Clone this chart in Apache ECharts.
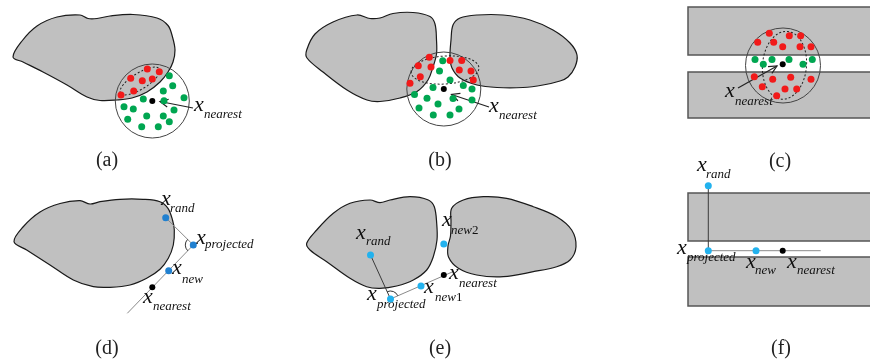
<!DOCTYPE html>
<html>
<head>
<meta charset="utf-8">
<script src="https://cdn.jsdelivr.net/npm/echarts@6/dist/echarts.min.js"></script>
<style>
  html, body { margin: 0; padding: 0; background: #ffffff; }
  #chart { width: 870px; height: 360px; }
</style>
</head>
<body>
<div id="chart"></div>
<script>
// ---- obstacle outlines (figure space: x to the right, y downward) ----
const obstacleA = [[13,57],[22,41],[37,26],[57,17],[80,15],[88,18.5],[97,18.5],[110,16],[133,14.5],[157,18],[168,25.5],[172.5,37],[175,50],[173,62],[168,72],[160,82],[147,92],[132,98],[117,100],[100,100.5],[87,97],[67,85],[43,72],[23,62]];
const obstacleB1 = [[306.7,50],[315,34],[333,22],[357,15],[370,18.5],[380,18],[393,13.5],[413,12.5],[430,16.5],[435,24],[436.5,40],[436.5,54],[433,67],[428,80],[417,91.5],[400,98],[380,101.5],[367,100],[347,90],[323,72],[307,58]];
const obstacleB2 = [[451,40],[453,25],[460,18],[477,15],[503,15],[530,20],[553,30],[570,43],[577,55],[575,67],[568,77],[560,81],[543,85],[523,87.5],[497,87.5],[477,85],[460,78],[452,68],[450,57]];
const obstacleD = [[14,241.7],[23,227],[40,212],[60,203.5],[80,200.7],[90,204],[100,201.7],[120,199.3],[143,199.3],[160,201.7],[168,208.3],[172.5,220],[174.3,230],[173.3,245],[168.3,258.3],[160,269.3],[146.7,278.3],[130,285],[110,287.3],[93.3,286.7],[73.3,280],[50,265],[26.7,250]];
const obstacleE1 = [[306.7,243.3],[316.7,230],[333.3,213.3],[350,203.3],[370,200],[380,202.7],[390,200],[410,196.7],[428.3,200],[434.3,206.7],[436.7,223.3],[437,240],[433.3,256.7],[426.7,270],[413.3,280],[396.7,286],[380,288.3],[366.7,286.7],[350,278.3],[326.7,261.7],[310,250]];
const obstacleE2 = [[451.7,208.3],[463.3,200],[483.3,196.7],[506.7,198.3],[533.3,206.7],[556.7,216.7],[571.7,230],[576,246.7],[570,260],[556.7,266.7],[533.3,271.7],[503.3,276.7],[476.7,275],[458,268],[448.5,257],[448,246],[450.5,236],[451,222]];
const obstacles = [obstacleA, obstacleB1, obstacleB2, obstacleD, obstacleE1, obstacleE2];

// corridor walls in (c) and (f): [left, top, right, bottom]
const walls = [[688,7,876,55],[688,72,876,118],[688,193,876,241],[688,257,876,306]];

// sampling neighbourhoods: [cx, cy, r]
const neighbourhoods = [[152.3,101,37],[443.8,89,37],[783,65.5,37.5]];

// dotted collision clusters: [cx, cy, rx, ry, tilt in degrees]
const clusters = [[140,81,23,8,32],[445,70,34,14,4],[784.5,65.3,22,34,-5]];

// samples in collision
const redSamples = [
  [147.3,69],[159.3,71.7],[130.7,78.3],[142.3,80.7],[152.3,79],[133.7,91],[121,95],
  [429.3,57.3],[418.3,65.7],[431,67],[420.3,76.7],[410,83.3],[450,60.5],[461.7,60.5],[459.3,70],[471,71],[473.3,80],
  [769.3,33.3],[789.3,35.7],[800.7,35.7],[757.7,42.3],[773.7,42.3],[782.7,46.7],[800,46.7],[811,46.7],
  [754.3,76.7],[772.7,79.3],[790.7,77.3],[811,79.3],[762.3,86.7],[785,89],[796.7,89],[776.7,95.7]
];
// collision-free samples
const greenSamples = [
  [169.3,75.7],[172.7,85.7],[163.3,91],[184,97.7],[143.3,99],[164,100.7],[124,106.7],[133.3,109],[174,110],
  [146.7,116],[163.3,116],[169.3,121.7],[127.7,119.3],[141.7,126.7],[158.3,126.7],
  [442.7,60.7],[439.5,71],[450,80],[433,87.5],[463.3,85.5],[472,89],[414.5,94.5],[427,98.3],[453,98.5],
  [472,100],[419,108],[438,104],[459,109],[433.3,115],[450,115],
  [755,59.5],[772,59.5],[789,59.5],[812.3,59.5],[763.3,64.3],[803,64.3]
];
// nearest tree nodes
const nearestNodes = [[152.3,101],[443.8,89],[782.7,64.3],[152.3,287.3],[443.8,275],[782.7,250.7]];
// rand / projected / new states in (d)
const statesD = [[165.7,217.7],[193.3,245],[168.7,270.7]];
// rand / projected / new states in (e) and (f)
const statesEF = [[370.5,255],[390.5,299],[421,286],[443.8,244],[708.3,185.7],[708.3,250.7],[756,250.7]];

// connecting segments
const greySegments = [
  [[165.7,217.7],[193.3,245]],
  [[193.3,245],[127.3,313.3]],
  [[390.5,299],[453.3,271.5]],
  [[708.3,250.7],[820.7,250.7]]
];
const darkSegments = [
  [[370.5,255],[390.5,299]],
  [[708.3,185.7],[708.3,250.7]]
];
// right-angle marks: [vertex, towards rand, along extension]
const rightAngles = [
  [[193.3,245],[165.7,217.7],[127.3,313.3]],
  [[390.5,299],[370.5,255],[453.3,271.5]]
];
// pointer arrows: [from, to]
const pointers = [
  [[193,108],[160,101.5]],
  [[489,107],[451.5,94.5]],
  [[738,88],[777,66]]
];

// state labels: [subscript, x left, x baseline, subscript left, subscript baseline]
const stateLabels = [
  ['nearest',194,113,204,119],
  ['nearest',489,114,499,120],
  ['nearest',725,99,735,106],
  ['rand',161,207,170,213],
  ['projected',196,246,205,249],
  ['new',172,276,182,284],
  ['nearest',143,305,153,311],
  ['rand',356,241,366,246],
  ['projected',367,302,377,309],
  ['new1',424,295,435,302],
  ['nearest',449,281,459,288],
  ['new2',442,228,451,235],
  ['rand',697,173,706,179],
  ['projected',677,256,687,262],
  ['new',746,270,755,275],
  ['nearest',787,270,797,275]
];
// panel captions: [text, centre x, centre y]
const captions = [['(a)',107,161],['(b)',440,161],['(c)',780,162],['(d)',107,349],['(e)',440,349],['(f)',781,349]];

const SERIF = '"Liberation Serif", "Times New Roman", serif';
const FILL_GREY = '#c0c0c0';

function indexData(list) { return list.map((_, i) => [i, 0]); }

// y position for a 'middle'-aligned text so its baseline lands on `base`
function midFromBase(base, size) { return base - 0.34 * size; }

const option = {
  animation: false,
  backgroundColor: '#ffffff',
  grid: { left: 0, right: 0, top: 0, bottom: 0 },
  xAxis: { type: 'value', min: 0, max: 870, show: false },
  yAxis: { type: 'value', min: 0, max: 360, inverse: true, show: false },
  series: [
    {
      type: 'custom', silent: true, data: indexData(obstacles),
      renderItem: (params, api) => ({
        type: 'polygon',
        shape: { points: obstacles[params.dataIndex].map(p => api.coord(p)), smooth: 0.35 },
        style: { fill: FILL_GREY, stroke: '#1a1a1a', lineWidth: 1.2 }
      })
    },
    {
      type: 'custom', silent: true, data: indexData(walls),
      renderItem: (params, api) => {
        const w = walls[params.dataIndex];
        const a = api.coord([w[0], w[1]]);
        const b = api.coord([w[2], w[3]]);
        return {
          type: 'rect',
          shape: { x: a[0], y: a[1], width: b[0] - a[0], height: b[1] - a[1] },
          style: { fill: FILL_GREY, stroke: '#555555', lineWidth: 1.5 }
        };
      }
    },
    {
      type: 'custom', silent: true, data: indexData(neighbourhoods),
      renderItem: (params, api) => {
        const n = neighbourhoods[params.dataIndex];
        const c = api.coord([n[0], n[1]]);
        const r = api.size([n[2], 0])[0];
        return {
          type: 'circle',
          shape: { cx: c[0], cy: c[1], r: r },
          style: { fill: 'none', stroke: '#444444', lineWidth: 1 }
        };
      }
    },
    {
      type: 'custom', silent: true, data: indexData(clusters),
      renderItem: (params, api) => {
        const e = clusters[params.dataIndex];
        const c = api.coord([e[0], e[1]]);
        const s = api.size([e[2], e[3]]);
        return {
          type: 'ellipse',
          shape: { cx: c[0], cy: c[1], rx: s[0], ry: s[1] },
          originX: c[0], originY: c[1],
          rotation: e[4] * Math.PI / 180,
          style: { fill: 'none', stroke: '#222222', lineWidth: 1, lineDash: [2, 2] }
        };
      }
    },
    {
      type: 'custom', silent: true, data: indexData(greySegments),
      renderItem: (params, api) => {
        const s = greySegments[params.dataIndex];
        const a = api.coord(s[0]), b = api.coord(s[1]);
        return {
          type: 'line',
          shape: { x1: a[0], y1: a[1], x2: b[0], y2: b[1] },
          style: { stroke: '#8a8a8a', lineWidth: 1 }
        };
      }
    },
    {
      type: 'custom', silent: true, data: indexData(darkSegments),
      renderItem: (params, api) => {
        const s = darkSegments[params.dataIndex];
        const a = api.coord(s[0]), b = api.coord(s[1]);
        return {
          type: 'line',
          shape: { x1: a[0], y1: a[1], x2: b[0], y2: b[1] },
          style: { stroke: '#3a3a3a', lineWidth: 1 }
        };
      }
    },
    {
      type: 'custom', silent: true, data: indexData(rightAngles),
      renderItem: (params, api) => {
        const m = rightAngles[params.dataIndex];
        const v = api.coord(m[0]), p = api.coord(m[1]), q = api.coord(m[2]);
        let s = Math.atan2(p[1] - v[1], p[0] - v[0]);
        let e = Math.atan2(q[1] - v[1], q[0] - v[0]);
        let d = e - s;
        while (d < 0) d += Math.PI * 2;
        if (d > Math.PI) { s = e; d = Math.PI * 2 - d; }
        return {
          type: 'arc',
          shape: { cx: v[0], cy: v[1], r: 8, startAngle: s, endAngle: s + d, clockwise: true },
          style: { fill: 'none', stroke: '#333333', lineWidth: 1 }
        };
      }
    },
    { type: 'scatter', silent: true, data: redSamples, symbolSize: 7, itemStyle: { color: '#f21a1a', opacity: 1 } },
    { type: 'scatter', silent: true, data: greenSamples, symbolSize: 7, itemStyle: { color: '#00a651', opacity: 1 } },
    { type: 'scatter', silent: true, data: statesD, symbolSize: 7, itemStyle: { color: '#2080d0', opacity: 1 } },
    { type: 'scatter', silent: true, data: statesEF, symbolSize: 7, itemStyle: { color: '#22b2ee', opacity: 1 } },
    { type: 'scatter', silent: true, data: nearestNodes, symbolSize: 6, itemStyle: { color: '#000000', opacity: 1 } },
    {
      type: 'custom', silent: true, data: indexData(pointers),
      renderItem: (params, api) => {
        const pr = pointers[params.dataIndex];
        const a = api.coord(pr[0]), b = api.coord(pr[1]);
        const ang = Math.atan2(a[1] - b[1], a[0] - b[0]);
        const len = 9, spread = 0.45;
        const h1 = [b[0] + len * Math.cos(ang + spread), b[1] + len * Math.sin(ang + spread)];
        const h2 = [b[0] + len * Math.cos(ang - spread), b[1] + len * Math.sin(ang - spread)];
        return {
          type: 'group',
          children: [
            { type: 'line', shape: { x1: a[0], y1: a[1], x2: b[0], y2: b[1] }, style: { stroke: '#222222', lineWidth: 1.2 } },
            { type: 'polyline', shape: { points: [h1, b, h2] }, style: { fill: 'none', stroke: '#222222', lineWidth: 1.2 } }
          ]
        };
      }
    },
    {
      type: 'custom', silent: true, data: indexData(stateLabels),
      renderItem: (params, api) => {
        const l = stateLabels[params.dataIndex];
        const main = api.coord([l[1], l[2]]);
        const sub = api.coord([l[3], l[4]]);
        const m = /^(\D+)(\d*)$/.exec(l[0]);
        const rich = m[2] ? '{i|' + m[1] + '}{n|' + m[2] + '}' : '{i|' + m[1] + '}';
        return {
          type: 'group',
          children: [
            {
              type: 'text', x: main[0], y: midFromBase(main[1], 22),
              style: { text: 'x', font: 'italic 22px ' + SERIF, fill: '#111111', align: 'left', verticalAlign: 'middle' }
            },
            {
              type: 'text', x: sub[0], y: midFromBase(sub[1], 13),
              style: {
                text: rich, align: 'left', verticalAlign: 'middle', fill: '#111111',
                rich: {
                  i: { fontStyle: 'italic', fontSize: 13, fontFamily: SERIF, fill: '#111111' },
                  n: { fontStyle: 'normal', fontSize: 13, fontFamily: SERIF, fill: '#111111' }
                }
              }
            }
          ]
        };
      }
    },
    {
      type: 'custom', silent: true, data: indexData(captions),
      renderItem: (params, api) => {
        const c = captions[params.dataIndex];
        const p = api.coord([c[1], c[2]]);
        return {
          type: 'text', x: p[0], y: p[1],
          style: { text: c[0], font: '20px ' + SERIF, fill: '#222222', align: 'center', verticalAlign: 'middle' }
        };
      }
    }
  ]
};

const chart = echarts.init(document.getElementById('chart'), null, { renderer: 'canvas' });
chart.setOption(option);
</script>
</body>
</html>
